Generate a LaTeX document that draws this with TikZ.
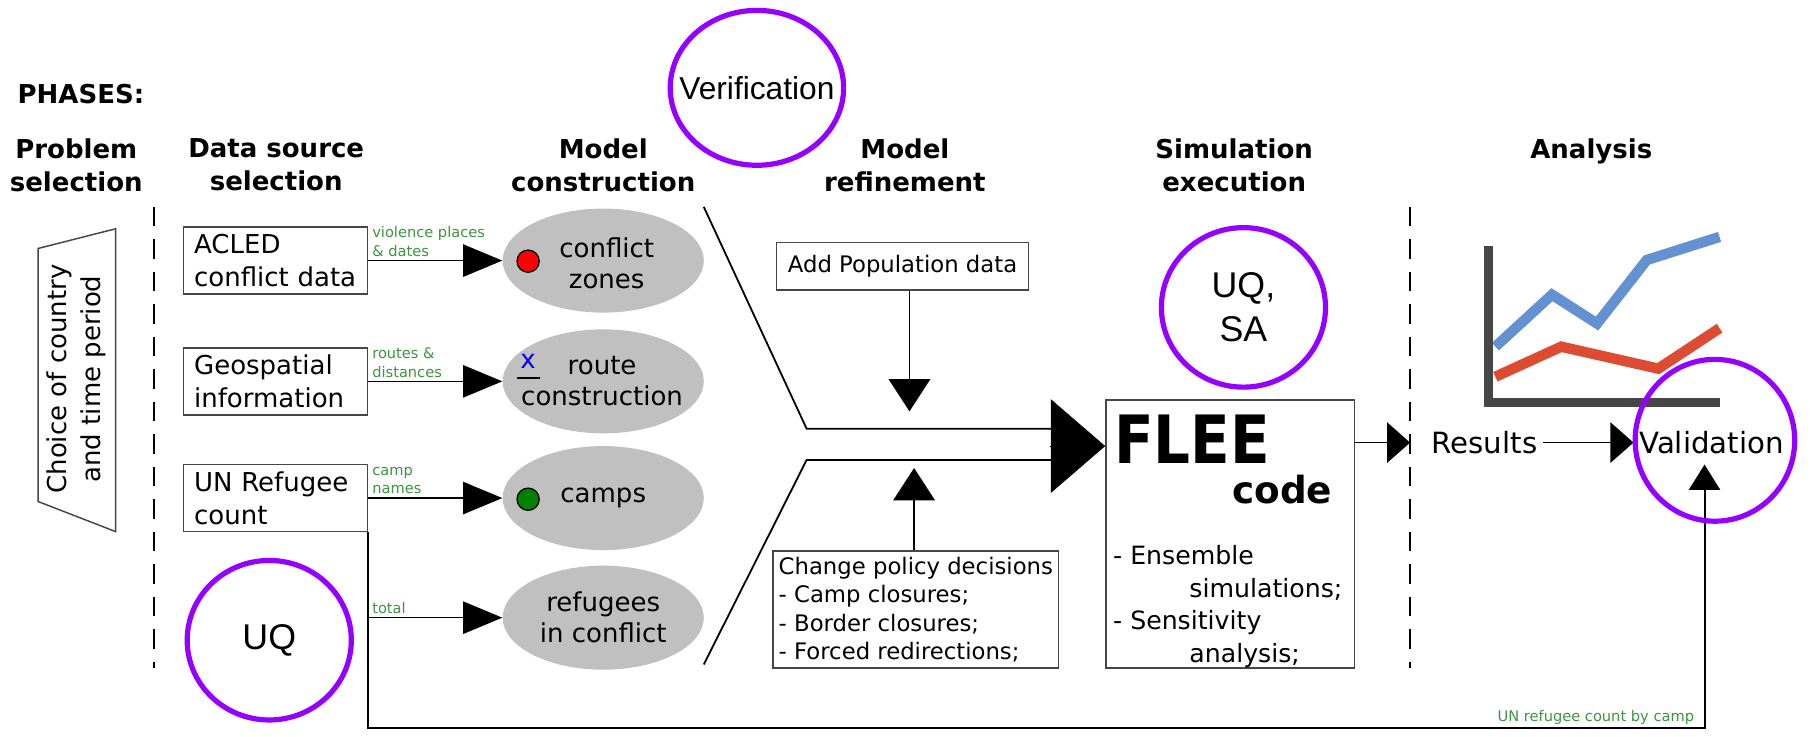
\documentclass[tikz,border=0pt]{standalone}
\usepackage{fontspec}
\usepackage{graphicx}
\setmainfont{DejaVu Sans}
\newfontfamily\annfont{Liberation Sans}
\usetikzlibrary{arrows.meta,calc,positioning,shapes.geometric}

\definecolor{lblgreen}{RGB}{60,150,60}
\definecolor{zonegray}{RGB}{192,192,192}
\definecolor{linegray}{RGB}{70,70,70}
\definecolor{annpurple}{RGB}{150,0,255}
\definecolor{plotblue}{RGB}{100,145,210}
\definecolor{plotred}{RGB}{220,75,50}
\definecolor{dotgreen}{RGB}{0,130,0}

\tikzset{%
	phase/.style    = {font=\bfseries\fontsize{16}{20}\selectfont, align=center, anchor=north, inner sep=0pt},
	source/.style   = {draw=linegray, line width=0.9pt, rectangle, minimum width=3.975cm, minimum height=1.45cm, text width=3.525cm, inner xsep=0.225cm, align=left, font=\fontsize{16}{20}\selectfont},
	zone/.style     = {ellipse, fill=zonegray, minimum width=4.35cm, minimum height=2.25cm, inner sep=0pt}, % model element
	zonetext/.style = {align=center, font=\fontsize{16}{19}\selectfont, inner sep=0pt},
	dot/.style      = {circle, draw, line width=0.8pt, minimum size=0.48cm, inner sep=0pt},
	note/.style     = {draw=linegray, line width=0.9pt, rectangle, font=\fontsize{14}{17.5}\selectfont},
	lbl/.style      = {text=lblgreen, font=\fontsize{9}{11.4}\selectfont, align=left, inner sep=2pt}, % arrow label
	ann/.style      = {ellipse, draw=annpurple, line width=3.2pt, inner sep=0pt}, % annotation ring
	anntext/.style  = {font=\annfont\fontsize{19.5}{24}\selectfont, align=center, inner sep=0pt},
	sep/.style      = {line width=1.2pt, dash pattern=on 12pt off 8pt},
}
\tikzset{%
	arrow/.style      = {line width=1pt, -{Triangle[length=0.85cm, width=0.7cm]}},
	funnel/.style     = {line width=1.1pt},
	bigarrow/.style   = {-{Triangle[length=1.175cm, width=2.025cm]}},
	vertarrow/.style  = {line width=1pt, -{Triangle[length=0.7cm, width=0.9cm]}},
	smallarrow/.style = {line width=1pt, -{Triangle[length=0.5cm, width=0.875cm]}},
}

\begin{document}
\begin{tikzpicture}[x=0.025cm, y=-0.025cm]
	\useasboundingbox (0,0) rectangle (1568,637);
	% phases
	\node[phase, anchor=north west] (phases) at (15,73) {PHASES:};
	\node[phase] (h1) at (66,120) {Problem\\selection};
	\node[phase] (h2) at (239,120) {Data source\\selection};
	\node[phase] (h3) at (522,120) {Model\\construction};
	\node[phase] (h4) at (783,120) {Model\\refinement};
	\node[phase] (h5) at (1068,120) {Simulation\\execution};
	\node[phase] (h6) at (1377,120) {Analysis};
	\draw[sep] (133,179) -- (133,578);
	\draw[sep] (1220,179) -- (1220,578);
	% problem selection
	\draw[linegray, line width=0.9pt] (33,215) -- (100,198) -- (100,460) -- (33,434) -- cycle;
	\node[rotate=90, align=center, font=\fontsize{16}{21}\selectfont] (choice) at (66,328) {Choice of country\\and time period};
	% data sources
	\node[source] (acled) at (238.5,225.5) {ACLED\\conflict data};
	\node[source] (geo) at (238.5,330) {Geospatial\\information};
	\node[source] (un) at (238.5,431) {UN Refugee\\count};
	% model elements
	\node[zone] (zones) at (522,225.5) {};
	\node[zone] (routes) at (522,330) {};
	\node[zone] (camps) at (522,431) {};
	\node[zone] (refug) at (522,534.5) {};
	\node[zonetext] at (525,228) {conflict\\zones};
	\node[zonetext] at (521,330) {route\\construction};
	\node[zonetext] at (522,431) {camps};
	\node[zonetext] at (522,534) {refugees\\in conflict};
	\node[dot, fill=red] (reddot) at (457,226) {};
	\node[dot, fill=dotgreen] (greendot) at (457,432) {};
	\node[text=blue, font=\fontsize{16}{16}\selectfont, inner sep=0pt] (xmark) at (457,313) {x};
	\draw[line width=1.1pt] ($(xmark.south)+(-10,8)$) -- ($(xmark.south)+(10,8)$);
	\draw[arrow] (acled.east) -- node[lbl, above right, pos=0] {violence places\\\& dates} (zones.west);
	\draw[arrow] (geo.east) -- node[lbl, above right, pos=0] {routes \&\\distances} (routes.west);
	\draw[arrow] (un.east) -- node[lbl, above right, pos=0] {camp\\names} (camps.west);
	\draw[arrow] (un.south east |- refug.west) -- node[lbl, above right, pos=0] {total} (refug.west);
	% refinement
	\coordinate (fa) at (609,179);
	\coordinate (fb) at (698,371);
	\coordinate (fc) at (910,371);
	\coordinate (ga) at (609,575);
	\coordinate (gb) at (698,398);
	\coordinate (gc) at (910,398);
	\draw[funnel] (fa) -- (fb) -- (fc);
	\draw[funnel] (ga) -- (gb) -- (gc);
	\node[note, minimum width=5.45cm, minimum height=1.025cm] (pop) at (781,230.5) {Add Population data};
	\node[note, minimum width=6.175cm, minimum height=2.525cm, inner xsep=0.1cm, align=left] (policy) at (792.5,527.5) {Change policy decisions\\- Camp closures;\\- Border closures;\\- Forced redirections;};
	\coordinate (popend) at (787,356);
	\coordinate (polend) at (791,405);
	\draw[vertarrow] (pop.south -| popend) -- (popend);
	\draw[vertarrow] (policy.north -| polend) -- (polend);
	% simulation
	\node[note, minimum width=5.375cm, minimum height=5.8cm] (flee) at (1064.5,462) {};
	\coordinate (fbase) at (909,386);
	\draw[bigarrow] (fbase) -- (flee.west |- fbase);
	\node[anchor=base west, inner sep=0pt, font=\bfseries\fontsize{41}{41}\selectfont] (fleetitle) at (964,401) {\scalebox{0.87}[1]{FLEE}};
	\node[anchor=base east, inner sep=0pt, font=\bfseries\fontsize{23}{23}\selectfont] (fleecode) at (1153,436) {code};
	\node[anchor=north west, inner sep=0pt, align=left, font=\fontsize{15.5}{20}\selectfont] (fleelist) at (963,472) {- Ensemble\\\hspace*{1.65cm}simulations;\\- Sensitivity\\\hspace*{1.65cm}analysis;};
	% analysis
	\draw[plotblue, line width=6.4pt] (1294,300) -- (1343,255) -- (1382,280) -- (1425,225) -- (1488,205);
	\draw[plotred, line width=6.4pt] (1294,326) -- (1351,300) -- (1435,319) -- (1488,284);
	\draw[linegray, line width=5.7pt] (1288,213) -- (1288,348) -- (1488,348);
	\node[font=\fontsize{18}{18}\selectfont] (res) at (1284.5,383) {Results};
	\node[font=\fontsize{18}{18}\selectfont] (valid) at (1481,383) {Validation};
	\draw[smallarrow, shorten >=0.34cm] (flee.east |- res) -- (res.west);
	\draw[smallarrow] (res.east) -- (valid.west);
	\coordinate (vbot) at (1475,630);
	\coordinate (vtip) at (1475,402);
	\draw[line width=1.2pt, -{Triangle[length=0.55cm, width=0.675cm]}] (un.south east) |- (vbot) -- (vtip);
	\node[lbl, anchor=south east] (uncount) at ([xshift=-0.15cm]vbot) {UN refugee count by camp};
	% annotations
	\node[ann, minimum width=3.75cm, minimum height=3.35cm, label={[anntext]center:Verification}] (verif) at (655,76) {};
	\node[ann, minimum width=3.55cm, minimum height=3.45cm, label={[anntext, font=\annfont\fontsize{22}{27}\selectfont]center:{UQ,\\SA}}] (uqsa) at (1076,266) {};
	\node[ann, minimum width=3.55cm, minimum height=3.45cm, label={[anntext, font=\annfont\fontsize{22}{27}\selectfont]center:UQ}] (uq) at (233,554) {};
	\node[ann, minimum width=3.45cm, minimum height=3.5cm] (vring) at (1484,381) {};
\end{tikzpicture}
\end{document}
